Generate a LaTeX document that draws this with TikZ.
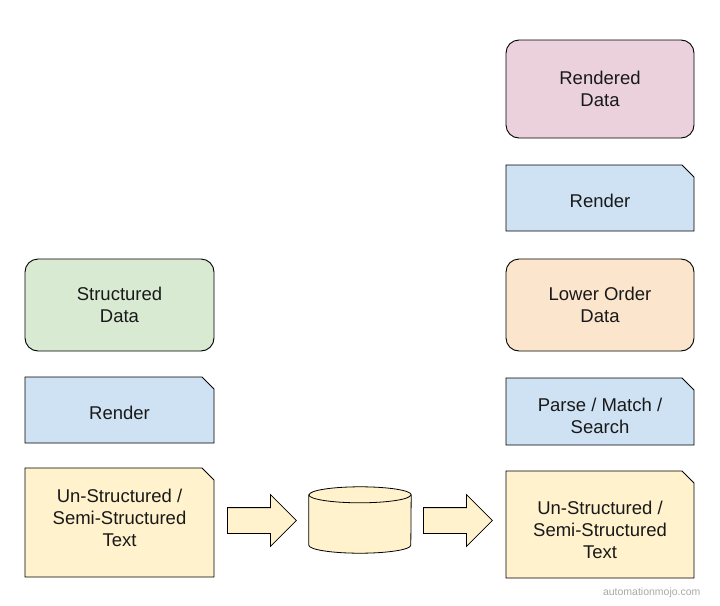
\documentclass[tikz,border=0pt]{standalone}
\usepackage{fontspec}
\setmainfont{Liberation Sans}
\usetikzlibrary{positioning,calc,shapes.misc,shapes.arrows}
\definecolor{datagreen}{HTML}{D9EAD3}
\definecolor{stepblue}{HTML}{CFE2F3}
\definecolor{textyellow}{HTML}{FFF2CC}
\definecolor{datapink}{HTML}{EAD1DC}
\definecolor{dataorange}{HTML}{FCE5CD}
\definecolor{markgray}{HTML}{A8A8A8}
\tikzset{
  box/.style={draw=black, line width=0.9pt, align=center, inner sep=2pt,
    font=\fontsize{18.5}{22}\selectfont, text=black!90},
  databox/.style={box, rounded corners=13pt},
  docbox/.style={box, chamfered rectangle, chamfered rectangle corners=north east,
    chamfered rectangle xsep=6pt, chamfered rectangle ysep=6pt},
  % moves the text up or down in its box
  textat/.style={text height=#1},
  bigarrow/.style={single arrow, draw=black, line width=0.8pt, fill=textyellow,
    inner sep=0pt, inner ysep=12.5pt, single arrow head extend=13pt,
    minimum height=69pt, anchor=west},
  store/.style={draw=black, line width=0.8pt, fill=textyellow},
  sitemark/.style={font=\fontsize{10.5}{12}\selectfont, text=markgray},
}
\begin{document}
\begin{tikzpicture}[x=1pt,y=-1pt]
  \useasboundingbox (0,0) rectangle (720,605);
  % left column
  \node[databox, fill=datagreen, minimum width=189pt, minimum height=92pt] (sdata) at (119.5,305) {Structured\\Data};
  \node[docbox, textat=19pt, fill=stepblue, minimum width=189pt, minimum height=66pt] (lrender) at (119.5,410) {Render};
  \node[docbox, textat=49pt, fill=textyellow, minimum width=189pt, minimum height=109pt] (ltext) at (119.5,522.5) {Un-Structured /\\Semi-Structured\\Text};
  % middle: two block arrows and the store
  \node[bigarrow] (arrowin) at (227,520.5) {};
  \node[minimum width=102pt, minimum height=66pt, inner sep=0pt] (db) at (360,520) {};
  \draw[store] ($(db.north west)+(0,8)$) -- ($(db.south west)+(0,-8)$)
    arc[start angle=180, end angle=0, x radius=51, y radius=8]
    -- ($(db.north east)+(0,8)$)
    arc[start angle=0, end angle=-180, x radius=51, y radius=8] -- cycle;
  \draw[store, fill=none] ($(db.north west)+(0,8)$)
    arc[start angle=180, end angle=0, x radius=51, y radius=8];
  \node[bigarrow] (arrowout) at (423,520.5) {};
  % right column
  \node[databox, fill=datapink, minimum width=188pt, minimum height=98pt] (rdata) at (600,89) {Rendered\\Data};
  \node[docbox, textat=19pt, fill=stepblue, minimum width=188pt, minimum height=66pt] (rrender) at (600,198) {Render};
  \node[databox, fill=dataorange, minimum width=188pt, minimum height=92pt] (lodata) at (600,305) {Lower Order\\Data};
  \node[docbox, textat=45pt, fill=stepblue, minimum width=188pt, minimum height=67pt] (parse) at (600,411.5) {Parse / Match /\\Search};
  \node[docbox, textat=69pt, fill=textyellow, minimum width=188pt, minimum height=107pt] (rtext) at (600,524.5) {Un-Structured /\\Semi-Structured\\Text};
  \node[sitemark, anchor=east] (site) at (704,593) {automationmojo.com};
\end{tikzpicture}
\end{document}
